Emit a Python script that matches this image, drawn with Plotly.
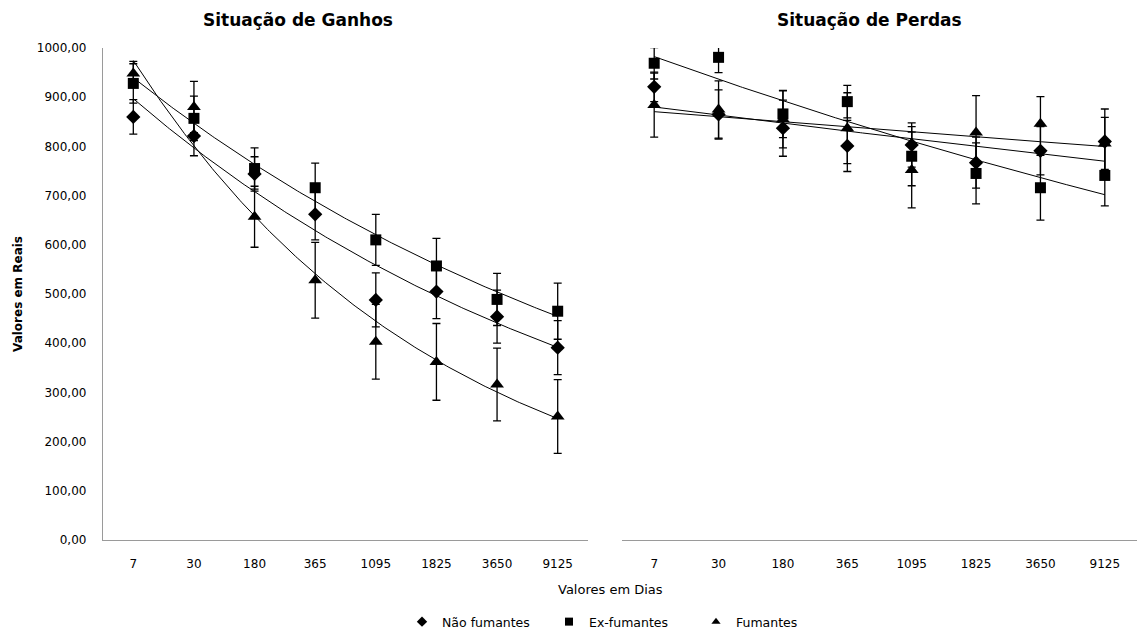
import numpy as np
import plotly.graph_objects as go

categories = ["7", "30", "180", "365", "1095", "1825", "3650", "9125"]
series_names = ["Não fumantes", "Ex-fumantes", "Fumantes"]

# Situação de Ganhos
ganhos_nao = [860, 821, 744, 662, 488, 505, 454, 391]
ganhos_ex = [928, 857, 755, 716, 610, 557, 489, 465]
ganhos_fum = [948, 880, 657, 528, 403, 362, 316, 251]
ganhos_nao_err = [35, 40, 35, 52, 55, 55, 54, 55]
ganhos_ex_err = [40, 45, 42, 50, 52, 56, 53, 57]
ganhos_fum_err = [25, 52, 62, 77, 76, 78, 74, 75]

# Situação de Perdas
perdas_nao = [921, 865, 837, 801, 803, 767, 791, 810]
perdas_ex = [969, 981, 866, 891, 780, 745, 716, 741]
perdas_fum = [884, 875, 855, 837, 752, 828, 846, 806]
perdas_nao_err = [30, 50, 57, 52, 45, 52, 49, 66]
perdas_ex_err = [32, 31, 48, 33, 60, 62, 66, 62]
perdas_fum_err = [65, 58, 58, 72, 77, 75, 55, 53]

y_ticks = [0, 100, 200, 300, 400, 500, 600, 700, 800, 900, 1000]
y_ticktext = ["0,00", "100,00", "200,00", "300,00", "400,00", "500,00",
              "600,00", "700,00", "800,00", "900,00", "1000,00"]

symbols = ["diamond", "square", "triangle-up"]
sizes = [11, 11, 12]
FONT = "DejaVu Sans, Liberation Sans, Arial, sans-serif"

W, H = 1137, 637
left_dom = [103 / W, 588 / W]
right_dom = [622 / W, 1.0]
y_dom = [1 - 540 / H, 1 - 48 / H]

fig = go.Figure()
xpos = np.arange(1, len(categories) + 1)
xfine = np.linspace(1, len(categories), 200)

panels = [
    ("x", "y", [ganhos_nao, ganhos_ex, ganhos_fum], [ganhos_nao_err, ganhos_ex_err, ganhos_fum_err]),
    ("x2", "y2", [perdas_nao, perdas_ex, perdas_fum], [perdas_nao_err, perdas_ex_err, perdas_fum_err]),
]

for xa, ya, vals, errs in panels:
    # exponential trendlines (Excel-style), fitted from the data
    for v in vals:
        b, a = np.polyfit(xpos, np.log(np.array(v, dtype=float)), 1)
        fig.add_trace(go.Scatter(x=xfine, y=np.exp(a + b * xfine), mode="lines",
                                 line=dict(color="black", width=1), xaxis=xa, yaxis=ya,
                                 showlegend=False, hoverinfo="skip"))
    for v, e, sym, sz in zip(vals, errs, symbols, sizes):
        fig.add_trace(go.Scatter(x=xpos, y=v, mode="markers",
                                 marker=dict(symbol=sym, size=sz, color="black"),
                                 error_y=dict(type="data", array=e, color="black", thickness=1.3, width=4),
                                 xaxis=xa, yaxis=ya, showlegend=False))

for name, sym in zip(series_names, symbols):
    fig.add_trace(go.Scatter(x=[None], y=[None], mode="markers", name=name,
                             marker=dict(symbol=sym, size=8, color="black")))

axis_common = dict(range=[0.5, len(categories) + 0.5], tickvals=list(xpos), ticktext=categories,
                   showline=True, linecolor="#9a9a9a", linewidth=1.3, showgrid=False, zeroline=False,
                   ticks="", tickfont=dict(family=FONT, size=12, color="black"), ticklabelstandoff=12,
                   automargin=False)

fig.update_layout(
    width=W, height=H, margin=dict(l=0, r=0, t=0, b=0, autoexpand=False),
    paper_bgcolor="white", plot_bgcolor="white",
    font=dict(family=FONT, color="black"),
    xaxis=dict(domain=left_dom, anchor="y", **axis_common),
    xaxis2=dict(domain=right_dom, anchor="y2", **axis_common),
    yaxis=dict(domain=y_dom, range=[0, 1000], tickvals=y_ticks, ticktext=y_ticktext,
               showline=True, linecolor="#9a9a9a", linewidth=1.3, showgrid=False, zeroline=False,
               ticks="", tickfont=dict(family=FONT, size=12, color="black"), ticklabelstandoff=13,
               automargin=False),
    yaxis2=dict(domain=y_dom, range=[0, 1000], anchor="x2", showline=False, showgrid=False,
                zeroline=False, showticklabels=False, ticks="", automargin=False),
    legend=dict(orientation="h", x=402 / W, xanchor="left", y=1 - 622 / H, yanchor="middle",
                font=dict(family=FONT, size=12.5, color="black"), itemwidth=30, tracegroupgap=0,
                entrywidth=102, entrywidthmode="pixels"),
    showlegend=True,
)

fig.add_annotation(text="<b>Situação de Ganhos</b>", x=298 / W, y=1 - 20 / H, xref="paper", yref="paper",
                   xanchor="center", yanchor="middle",
                   showarrow=False, font=dict(family=FONT, size=17, color="black"))
fig.add_annotation(text="<b>Situação de Perdas</b>", x=869 / W, y=1 - 20 / H, xref="paper", yref="paper",
                   xanchor="center", yanchor="middle",
                   showarrow=False, font=dict(family=FONT, size=17, color="black"))
fig.add_annotation(text="Valores em Dias", x=610 / W, y=1 - 589 / H, xref="paper", yref="paper",
                   xanchor="center", yanchor="middle",
                   showarrow=False, font=dict(family=FONT, size=13, color="black"))
fig.add_annotation(text="<b>Valores em Reais</b>", x=18 / W, y=1 - 294 / H, xref="paper", yref="paper",
                   xanchor="center", yanchor="middle",
                   showarrow=False, textangle=-90, font=dict(family=FONT, size=12, color="black"))

fig.write_html("out.html", config={"displayModeBar": False},
               post_script="document.body.style.margin='0px';")
